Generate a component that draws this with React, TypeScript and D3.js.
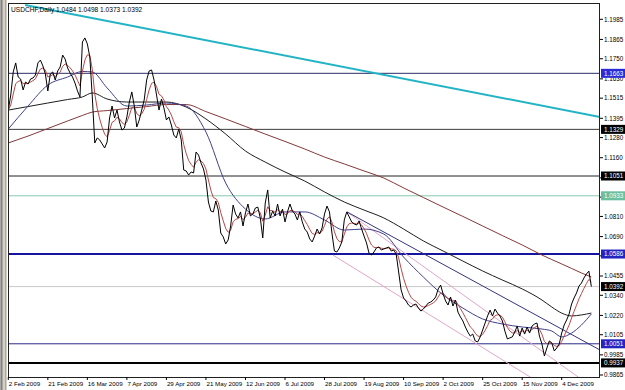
import React from 'react';
import * as d3 from 'd3';

const W = 625;
const H = 390;

// Daily closes, USDCHF, 2 Feb 2009 .. Dec 2009 (bar index = position)
const closes = [
  1.1444, 1.1534, 1.1671, 1.1725, 1.1641, 1.1629, 1.1564, 1.1611, 1.1599, 1.1629,
  1.1635, 1.1653, 1.1725, 1.1742, 1.1707, 1.1659, 1.1558, 1.1659, 1.1671, 1.1623,
  1.1677, 1.1701, 1.1772, 1.1748, 1.1695, 1.1665, 1.1641, 1.1605, 1.1558, 1.1522,
  1.1850, 1.1874, 1.1838, 1.1760, 1.1522, 1.1248, 1.1278, 1.1266, 1.1242, 1.1218,
  1.1254, 1.1397, 1.1468, 1.1397, 1.1444, 1.1373, 1.1325, 1.1337, 1.1403, 1.1492,
  1.1552, 1.1468, 1.1343, 1.1385, 1.1444, 1.1504, 1.1623, 1.1677, 1.1683, 1.1623,
  1.1534, 1.1444, 1.1510, 1.1456, 1.1385, 1.1403, 1.1355, 1.1295, 1.1278, 1.1331,
  1.1266, 1.1087, 1.1081, 1.1057, 1.1075, 1.1069, 1.1194, 1.1176, 1.1129, 1.1093,
  1.1027, 1.0896, 1.0842, 1.0837, 1.0902, 1.0848, 1.0711, 1.0688, 1.0646, 1.0670,
  1.0753, 1.0878, 1.0825, 1.0801, 1.0837, 1.0753, 1.0831, 1.0884, 1.0813, 1.0825,
  1.0860, 1.0866, 1.0801, 1.0682, 1.0890, 1.0968, 1.0801, 1.0842, 1.0813, 1.0884,
  1.0813, 1.0854, 1.0777, 1.0837, 1.0884, 1.0842, 1.0825, 1.0789, 1.0837, 1.0777,
  1.0735, 1.0717, 1.0676, 1.0658, 1.0693, 1.0735, 1.0705, 1.0741, 1.0825, 1.0872,
  1.0837, 1.0711, 1.0604, 1.0598, 1.0622, 1.0658, 1.0789, 1.0837, 1.0807, 1.0777,
  1.0765, 1.0759, 1.0783, 1.0735, 1.0693, 1.0652, 1.0592, 1.0580, 1.0598, 1.0622,
  1.0628, 1.0610, 1.0616, 1.0622, 1.0628, 1.0604, 1.0610, 1.0586, 1.0479, 1.0372,
  1.0324, 1.0306, 1.0282, 1.0270, 1.0282, 1.0288, 1.0264, 1.0246, 1.0258, 1.0276,
  1.0294, 1.0300, 1.0312, 1.0330, 1.0378, 1.0401, 1.0348, 1.0306, 1.0282, 1.0330,
  1.0276, 1.0312, 1.0240, 1.0211, 1.0187, 1.0151, 1.0121, 1.0097, 1.0109, 1.0068,
  1.0062, 1.0092, 1.0133, 1.0175, 1.0217, 1.0252, 1.0217, 1.0258, 1.0234, 1.0217,
  1.0187, 1.0127, 1.0080, 1.0086, 1.0092, 1.0121, 1.0157, 1.0097, 1.0145, 1.0109,
  1.0151, 1.0115, 1.0157, 1.0169, 1.0175, 1.0097, 1.0050, 0.9978, 1.0026, 1.0068,
  1.0056, 1.0008, 1.0026, 1.0050, 1.0115, 1.0163, 1.0193, 1.0229, 1.0288, 1.0324,
  1.0354, 1.0395, 1.0413, 1.0443, 1.0467, 1.0484, 1.0392,
];

// Moving averages read at sample bars
const maBars = [0, 8, 16, 24, 30, 34, 40, 48, 56, 64, 72, 80, 88, 96, 104, 112, 120, 128, 136, 144, 152, 160, 168, 176, 184, 192, 200, 208, 216, 220, 224, 228, 232, 236];
const maBlack = [1.1444, 1.1465, 1.1486, 1.1507, 1.1522, 1.1546, 1.1510, 1.1492, 1.1492, 1.1492, 1.1462, 1.1391, 1.1301, 1.1200, 1.1134, 1.1075, 1.1021, 1.0956, 1.0896, 1.0848, 1.0801, 1.0735, 1.0664, 1.0604, 1.0544, 1.0485, 1.0431, 1.0378, 1.0312, 1.0270, 1.0234, 1.0217, 1.0223, 1.0234];
const maBrown = [1.1248, 1.1289, 1.1334, 1.1379, 1.1412, 1.1432, 1.1441, 1.1453, 1.1465, 1.1477, 1.1477, 1.1435, 1.1391, 1.1346, 1.1301, 1.1257, 1.1212, 1.1164, 1.1123, 1.1081, 1.1039, 1.0980, 1.0923, 1.0866, 1.0810, 1.0753, 1.0696, 1.0640, 1.0580, 1.0553, 1.0527, 1.0500, 1.0473, 1.0449];
const maBlue = [1.1331, 1.1468, 1.1593, 1.1641, 1.1674, 1.1671, 1.1576, 1.1468, 1.1474, 1.1486, 1.1468, 1.1313, 1.1009, 1.0854, 1.0795, 1.0837, 1.0837, 1.0789, 1.0729, 1.0735, 1.0705, 1.0568, 1.0449, 1.0342, 1.0264, 1.0199, 1.0169, 1.0151, 1.0139, 1.0127, 1.0092, 1.0115, 1.0163, 1.0229];

// Trend lines: [bar, price] endpoints
const trendCyan = [[6.8, 1.2070], [239.5, 1.1403]];
const trendPinkLow = [[131.4, 1.0580], [219.7, 0.9776]];
const trendPinkHigh = [[137.1, 1.0837], [238.0, 0.9776]];
const trendNavy = [[137.1, 1.0837], [239.5, 1.0014]];

// Horizontal levels
const levelPrices = [1.1663, 1.1329, 1.1051, 1.0933, 1.0586, 1.0392, 1.0051, 0.9937];
const levelLabels = ['1.1663', '1.1329', '1.1051', '1.0933', '1.0586', '1.0392', '1.0051', '0.9937'];

const priceTicks = [1.1985, 1.1865, 1.1750, 1.1630, 1.1515, 1.1395, 1.1280, 1.1160, 1.1040, 1.0925, 1.0810, 1.0690, 1.0575, 1.0455, 1.0340, 1.0220, 1.0105, 0.9985, 0.9865];
const priceTickLabels = ['1.1985', '1.1865', '1.1750', '1.1630', '1.1515', '1.1395', '1.1280', '1.1160', '1.1040', '1.0925', '1.0810', '1.0690', '1.0575', '1.0455', '1.0340', '1.0220', '1.0105', '0.9985', '0.9865'];

const dateBars = [0, 16, 32, 48, 64, 80, 96, 112, 128, 144, 160, 176, 192, 208, 224];
const dateLabels = ['2 Feb 2009', '21 Feb 2009', '16 Mar 2009', '7 Apr 2009', '29 Apr 2009', '21 May 2009', '12 Jun 2009', '6 Jul 2009', '28 Jul 2009', '19 Aug 2009', '10 Sep 2009', '2 Oct 2009', '25 Oct 2009', '15 Nov 2009', '4 Dec 2009'];

const title = 'USDCHF,Daily  1.0484 1.0498 1.0373 1.0392';

// styles (kept apart from data)
const levelStroke = ['#2e2e66', '#3a3a3a', '#222222', '#86c8b0', '#1414a0', '#c8c8c8', '#2a2a8a', '#000000'];
const levelWidth = [1, 1, 1, 1, 2, 1, 1, 2];
const levelBg = ['#2a2ad8', '#000000', '#000000', '#6cbf9e', '#2424c0', '#000000', '#2424c0', '#000000'];

const PL = 8, PR = 600, PT = 3, PB = 377;
const FONT = '"Liberation Sans", Arial, sans-serif';

export default function App() {
  const x = d3.scaleLinear().domain([0, 224]).range([8.3, 561.7]);
  const y = d3.scaleLinear().domain([0.9865, 1.1985]).range([375, 19.3]);

  const pts = closes.map((c, i) => [i, c] as [number, number]);
  const alpha = 2 / (5 + 1);
  const red: [number, number][] = [];
  let e = closes[0];
  closes.forEach((c, i) => {
    e = i === 0 ? c : e + alpha * (c - e);
    red.push([i, e]);
  });

  const lin = d3.line<[number, number]>().x(d => x(d[0])).y(d => y(d[1]));
  const smooth = d3.line<[number, number]>().x(d => x(d[0])).y(d => y(d[1])).curve(d3.curveMonotoneX);
  const ma = (vals: number[]) => smooth(maBars.map((b, i) => [b, vals[i]] as [number, number])) || '';
  const tl = (t: number[][]) => lin(t as [number, number][]) || '';

  // tick labels that sit under a level label are hidden, as in the terminal
  const visibleTicks = priceTicks
    .map((p, i) => ({ p, label: priceTickLabels[i] }))
    .filter(t => levelPrices.every(lp => Math.abs(y(lp) - y(t.p)) >= 5));

  return (
    <svg width={W} height={H} style={{ position: 'absolute', left: 0, top: 0, background: '#fff' }} fontFamily={FONT}>
      <defs>
        <clipPath id="plot">
          <rect x={PL} y={PT} width={PR - PL} height={PB - PT} />
        </clipPath>
      </defs>
      <rect x={0} y={0} width={W} height={H} fill="#ffffff" />
      {/* window frame at left */}
      <rect x={0} y={0} width={7} height={H} fill="#d4d0c8" />
      <line x1={1.5} x2={1.5} y1={0} y2={H} stroke="#808080" strokeWidth={2} />
      <line x1={5.5} x2={5.5} y1={0} y2={H} stroke="#a8a8a8" strokeWidth={1} />

      <g clipPath="url(#plot)">
        {levelPrices.map((p, i) => (
          <line key={'lv' + i} x1={PL} x2={PR} y1={y(p)} y2={y(p)} stroke={levelStroke[i]} strokeWidth={levelWidth[i]} />
        ))}
        <path d={tl(trendCyan)} stroke="#22b4c4" strokeWidth={2} fill="none" />
        <path d={tl(trendPinkLow)} stroke="#e2a6c8" strokeWidth={1} fill="none" />
        <path d={tl(trendPinkHigh)} stroke="#e2a6c8" strokeWidth={1} fill="none" />
        <path d={tl(trendNavy)} stroke="#34347e" strokeWidth={1} fill="none" />
        <path d={ma(maBrown)} stroke="#84383a" strokeWidth={1} fill="none" />
        <path d={ma(maBlack)} stroke="#1e1e1e" strokeWidth={1} fill="none" />
        <path d={ma(maBlue)} stroke="#40408e" strokeWidth={1} fill="none" />
        <path d={lin(red) || ''} stroke="#b84848" strokeWidth={1} fill="none" />
        <path d={lin(pts) || ''} stroke="#000000" strokeWidth={1} fill="none" />
      </g>

      <rect x={PL + 0.5} y={PT + 0.5} width={PR - PL - 1} height={PB - PT} fill="none" stroke="#202020" strokeWidth={1} />

      <text x={11} y={11.5} fontSize={6.6} fill="#000">{title}</text>

      {/* right price axis */}
      {priceTicks.map((p, i) => (
        <line key={'tk' + i} x1={PR} x2={PR + 3} y1={y(p)} y2={y(p)} stroke="#000" strokeWidth={1} />
      ))}
      {visibleTicks.map((t, i) => (
        <text key={'pt' + i} x={PR + 4} y={y(t.p) + 2.3} fontSize={6.3} fill="#000">{t.label}</text>
      ))}
      {levelPrices.map((p, i) => (
        <g key={'ll' + i}>
          <rect x={PR + 1} y={y(p) - 4.5} width={24} height={9} fill={levelBg[i]} />
          <text x={PR + 4} y={y(p) + 2.3} fontSize={6.3} fill="#fff">{levelLabels[i]}</text>
        </g>
      ))}

      {/* bottom date axis */}
      {dateBars.map((b, i) => (
        <g key={'dt' + i}>
          <line x1={x(b)} x2={x(b)} y1={PB} y2={PB + 3} stroke="#000" strokeWidth={1} />
          <text x={x(b) + 0.5} y={385.5} fontSize={6.2} fill="#000">{dateLabels[i]}</text>
        </g>
      ))}
    </svg>
  );
}
